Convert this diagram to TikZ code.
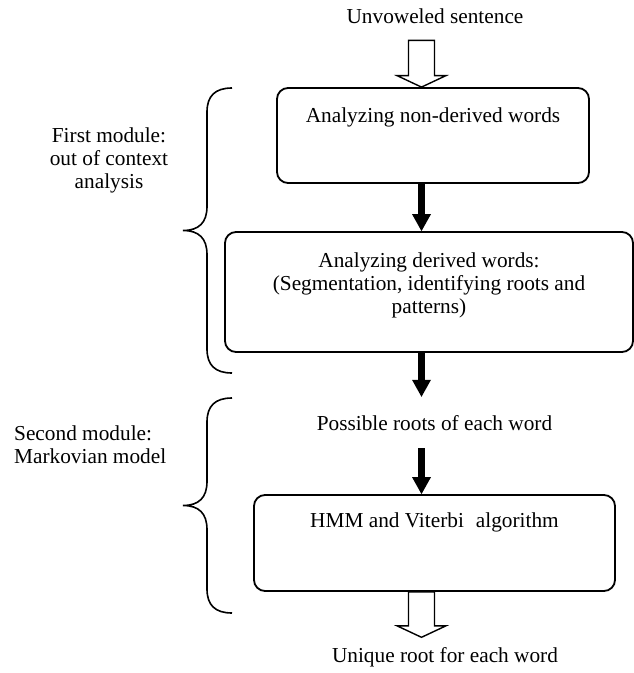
\documentclass[tikz,border=0pt]{standalone}
\usepackage{fontspec}
\setmainfont{Liberation Serif}
\usetikzlibrary{arrows.meta,positioning,calc}
\tikzset{
  stage/.style={draw,line width=1.8pt,rounded corners=11pt,inner sep=0pt},
  stagetext/.style={inner sep=0pt,align=center},
  moduletext/.style={inner sep=0pt,align=center},
  flow/.style={line width=6.5pt,-{Triangle[width=19pt,length=17pt,line width=0pt]}},
  hollow/.style={line width=1.4pt,fill=white,to path={
    let \p1=(\tikztostart),\p2=(\tikztotarget) in
    (\x1-13pt,\y1) -- (\x1-13pt,\y2+11.5pt) -- (\x1-24.5pt,\y2+11.5pt) -- (\x1,\y2)
    -- (\x1+24.5pt,\y2+11.5pt) -- (\x1+13pt,\y2+11.5pt) -- (\x1+13pt,\y1) -- cycle}},
  modbrace/.style={line width=1.6pt}
}
\begin{document}
\begin{tikzpicture}[x=1pt,y=-1pt,font=\fontsize{21.3pt}{23pt}\selectfont]
  \useasboundingbox (0,0) rectangle (634,673);
  \coordinate (axis) at (421.5,0);
  % input and output text
  \node[inner xsep=0pt,inner ysep=17pt,anchor=base] (input) at (435,23) {Unvoweled sentence};
  \node[inner xsep=0pt,inner ysep=18pt,anchor=base] (roots) at (434.5,430) {Possible roots of each word};
  \node[inner xsep=0pt,inner ysep=9.5pt,anchor=base] (output) at (445,662) {Unique root for each word};
  % boxes
  \node[stage,minimum width=312pt,minimum height=95pt] (box1) at (433,135.5) {};
  \node[stagetext,below=20.5pt of box1.north] (box1text) {Analyzing non-derived words};
  \node[stage,minimum width=408pt,minimum height=120pt] (box2) at (429,292) {};
  \node[stagetext,below=21.5pt of box2.north] (box2text) {Analyzing derived words:\\(Segmentation, identifying roots and\\patterns)};
  \node[stage,minimum width=361pt,minimum height=96pt] (box3) at (434.5,543) {};
  \node[stagetext,below=18pt of box3.north] (box3text) {HMM and Viterbi\hspace{12pt}algorithm};
  % arrows
  \draw[hollow] (input.south -| axis) to (box1.north -| axis);
  \draw[flow] (box1.south -| axis) -- (box2.north -| axis);
  \draw[flow] (box2.south -| axis) -- (roots.north -| axis);
  \draw[flow] (roots.south -| axis) -- (box3.north -| axis);
  \draw[hollow] (box3.south -| axis) to (output.north -| axis);
  % modules
  \node[moduletext,anchor=north] (first) at (109,127.5) {First module:\\out of context\\analysis};
  \node[moduletext,align=left,anchor=north west] (second) at (14,426) {Second module:\\Markovian model};
  \foreach \ya/\yb in {88/373,398/613}{
    \pgfmathsetmacro\ym{(\ya+\yb)/2}
    \draw[modbrace] (232,\ya) .. controls (215,\ya) and (207,\ya+8) .. (207,\ya+24)
      -- (207,\ym-24) .. controls (207,\ym-8) and (199,\ym) .. (183,\ym)
      .. controls (199,\ym) and (207,\ym+8) .. (207,\ym+24)
      -- (207,\yb-24) .. controls (207,\yb-8) and (215,\yb) .. (232,\yb);
  }
\end{tikzpicture}
\end{document}
